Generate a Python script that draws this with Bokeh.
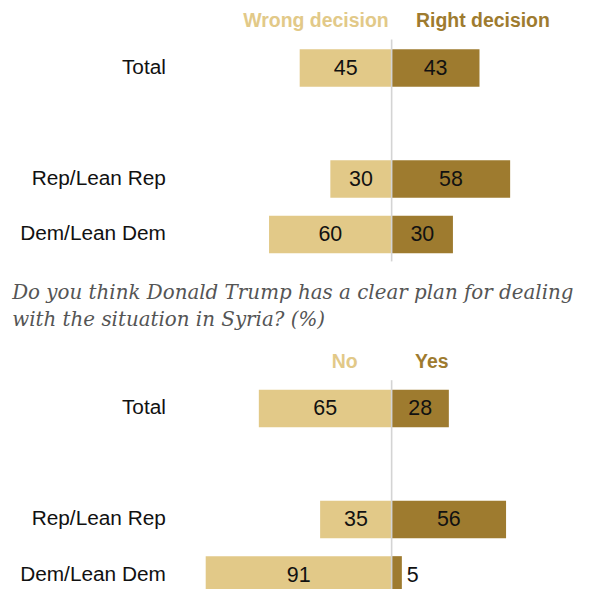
from bokeh.plotting import figure
from bokeh.models import Range1d
from bokeh.core.properties import value
from bokeh.embed import file_html
from bokeh.resources import INLINE

# ---- data ----
groups = ["Total", "Rep/Lean Rep", "Dem/Lean Dem"]
q1_headers = ["Wrong decision", "Right decision"]
q1_neg = [45, 30, 60]
q1_pos = [43, 58, 30]
q2_headers = ["No", "Yes"]
q2_neg = [65, 35, 91]
q2_pos = [28, 56, 5]
subtitle_lines = ["Do you think Donald Trump has a clear plan for dealing",
                  "with the situation in Syria? (%)"]

# ---- style / layout ----
LIGHT = "#E2C988"
DARK = "#9E7B2F"
REF_W, REF_H = 592, 605          # design space (pixels of the original)
W, H = 576, 589                  # figure size that fits the window
S = W / REF_W                    # font scale
PX = 2.1                         # design pixels per percentage point
ZERO = 402                       # design x of the zero line
SLOTS = [0, 2, 3]                # row slots (gap after Total)
ROWSTEP = 57
BAR_H = 38.5
TXT_SHIFT = 8                    # svg text sits lower than its baseline
LABEL_FONT = value("Liberation Sans")


def fs(px):
    return f"{px * S:.2f}px"


def dx(px_ref):
    """design pixel x -> data x"""
    return (px_ref - ZERO) / PX


p = figure(width=W, height=H, output_backend="svg", toolbar_location=None,
           x_range=Range1d(dx(0), dx(REF_W)),
           y_range=Range1d(REF_H, 0), min_border=0)
p.axis.visible = False
p.grid.visible = False
p.outline_line_color = None
p.background_fill_color = "white"
p.border_fill_color = "white"


def section(neg, pos, headers, first_center, head_base, line_top, line_bot,
            head_neg_x, head_pos_x):
    ys = [first_center + s * ROWSTEP for s in SLOTS]
    p.hbar(y=ys, left=[-v for v in neg], right=0, height=BAR_H,
           fill_color=LIGHT, line_color=None)
    p.hbar(y=ys, left=0, right=pos, height=BAR_H,
           fill_color=DARK, line_color=None)
    p.segment(x0=[0], y0=[line_top], x1=[0], y1=[line_bot],
              line_color="#d4d4d4", line_width=1.6)
    # group labels
    p.text(x=[dx(170)] * len(groups), y=[y + 6.5 - TXT_SHIFT for y in ys],
           text=groups, text_align="right", text_baseline="alphabetic",
           text_font=LABEL_FONT, text_font_size=fs(21.4), text_color="#111111")
    # values
    nx = [-v / 2 for v in neg]
    p.text(x=nx, y=[y + 7.5 - TXT_SHIFT for y in ys], text=[str(v) for v in neg],
           text_align="center", text_baseline="alphabetic",
           text_font=LABEL_FONT, text_font_size=fs(22), text_color="#111111")
    px_, al = [], []
    for v in pos:
        if v < 10:
            px_.append(v + 5 / PX)
            al.append("left")
        else:
            px_.append(v / 2)
            al.append("center")
    p.text(x=px_, y=[y + 7.5 - TXT_SHIFT for y in ys], text=[str(v) for v in pos],
           text_align=al, text_baseline="alphabetic",
           text_font=LABEL_FONT, text_font_size=fs(22), text_color="#111111")
    # headers
    p.text(x=[head_neg_x], y=[head_base - TXT_SHIFT], text=[headers[0]],
           text_align="right", text_baseline="alphabetic", text_font=LABEL_FONT,
           text_font_size=fs(20), text_font_style="bold", text_color=LIGHT)
    p.text(x=[head_pos_x], y=[head_base - TXT_SHIFT], text=[headers[1]],
           text_align="left", text_baseline="alphabetic", text_font=LABEL_FONT,
           text_font_size=fs(20), text_font_style="bold", text_color=DARK)


section(q1_neg, q1_pos, q1_headers, 69.3, 28, 40, 268, dx(399), dx(427))
section(q2_neg, q2_pos, q2_headers, 419, 378, 390, 612, dx(367), dx(426))

# subtitle
p.text(x=[dx(12)] * 2, y=[308 - TXT_SHIFT, 336 - TXT_SHIFT], text=subtitle_lines,
       text_align="left", text_baseline="alphabetic",
       text_font=value("DejaVu Serif"), text_font_style="italic",
       text_font_size=fs(20.4), text_color="#555555")

open("out.html", "w").write(file_html(p, INLINE))
